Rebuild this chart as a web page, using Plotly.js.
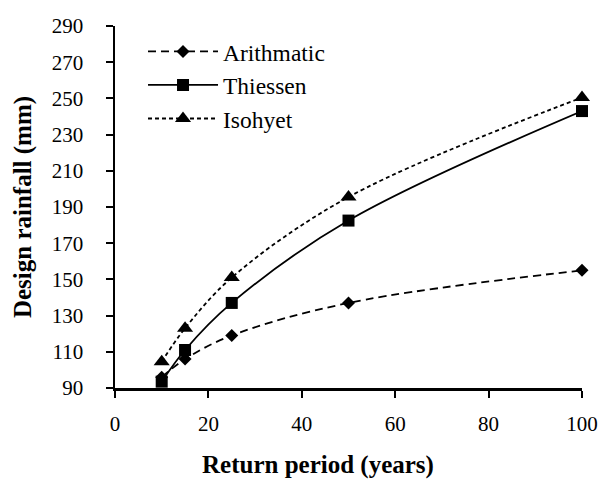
<!DOCTYPE html>
<html>
<head>
<meta charset="utf-8">
<script src="https://cdn.plot.ly/plotly-3.0.1.min.js"></script>
<style>html,body{margin:0;padding:0;background:#fff;}#chart{width:603px;height:480px;}</style>
</head>
<body>
<div id="chart"></div>
<script>
const returnPeriod = [10, 15, 25, 50, 100];
const arithmatic = [96, 106, 119, 137, 155];
const thiessen = [93.5, 111, 137, 182.5, 243];
const isohyet = [104.5, 123, 151, 195.5, 250.5];

const seriesNames = ['Arithmatic', 'Thiessen', 'Isohyet'];
const xTitle = 'Return period (years)';
const yTitle = 'Design rainfall (mm)';

const traces = [
  {x: returnPeriod, y: arithmatic, name: seriesNames[0], legendgroup: 'a', mode: 'lines+markers', cliponaxis: false,
   line: {color: '#000', width: 1.8, dash: '8px,5px', shape: 'spline', smoothing: 1},
   marker: {symbol: 'diamond', size: 10, color: '#000'}},
  {x: returnPeriod, y: thiessen, name: seriesNames[1], legendgroup: 'b', mode: 'lines+markers', cliponaxis: false,
   line: {color: '#000', width: 1.8, shape: 'spline', smoothing: 1},
   marker: {symbol: 'square', size: 12, color: '#000'}},
  {x: returnPeriod, y: isohyet, name: seriesNames[2], legendgroup: 'c', mode: 'lines+markers', cliponaxis: false,
   line: {color: '#000', width: 1.8, dash: '4px,3px', shape: 'spline', smoothing: 1},
   marker: {symbol: 'triangle-up', size: 14, color: '#000'}}
];

const fam = 'Liberation Serif, Times New Roman, serif';
const tickFont = {family: fam, size: 21, color: '#000'};
const legendFont = {family: fam, size: 23.5, color: '#000'};
const titleFont = {family: fam, size: 25, color: '#000'};

const layout = {
  width: 603, height: 480,
  margin: {l: 115, r: 21, t: 26, b: 92, pad: 0},
  paper_bgcolor: '#fff', plot_bgcolor: '#fff',
  font: tickFont,
  showlegend: true,
  legend: {x: 0.06, y: 0.99, xanchor: 'left', yanchor: 'top', bgcolor: 'rgba(0,0,0,0)',
           font: legendFont, itemwidth: 70, traceorder: 'grouped', tracegroupgap: 0},
  xaxis: {range: [0, 100], dtick: 20, tick0: 0, showgrid: false, zeroline: false,
          showline: true, linecolor: '#000', linewidth: 2.5, ticks: 'outside', ticklen: 7,
          tickwidth: 2, tickcolor: '#000', ticklabelstandoff: 8, tickfont: tickFont},
  yaxis: {range: [90, 290], dtick: 20, tick0: 90, showgrid: false, zeroline: false,
          showline: true, linecolor: '#000', linewidth: 2.5, ticks: 'outside', ticklen: 7,
          tickwidth: 2, tickcolor: '#000', ticklabelstandoff: 18, tickfont: tickFont,
          title: {text: '<b>' + yTitle + '</b>', font: titleFont, standoff: 13}},
  annotations: [
    {text: '<b>' + xTitle + '</b>', xref: 'paper', yref: 'paper', x: 0.435, y: -0.213,
     xanchor: 'center', yanchor: 'middle', showarrow: false, font: titleFont}
  ]
};

Plotly.newPlot('chart', traces, layout, {displayModeBar: false, staticPlot: true});
</script>
</body>
</html>
